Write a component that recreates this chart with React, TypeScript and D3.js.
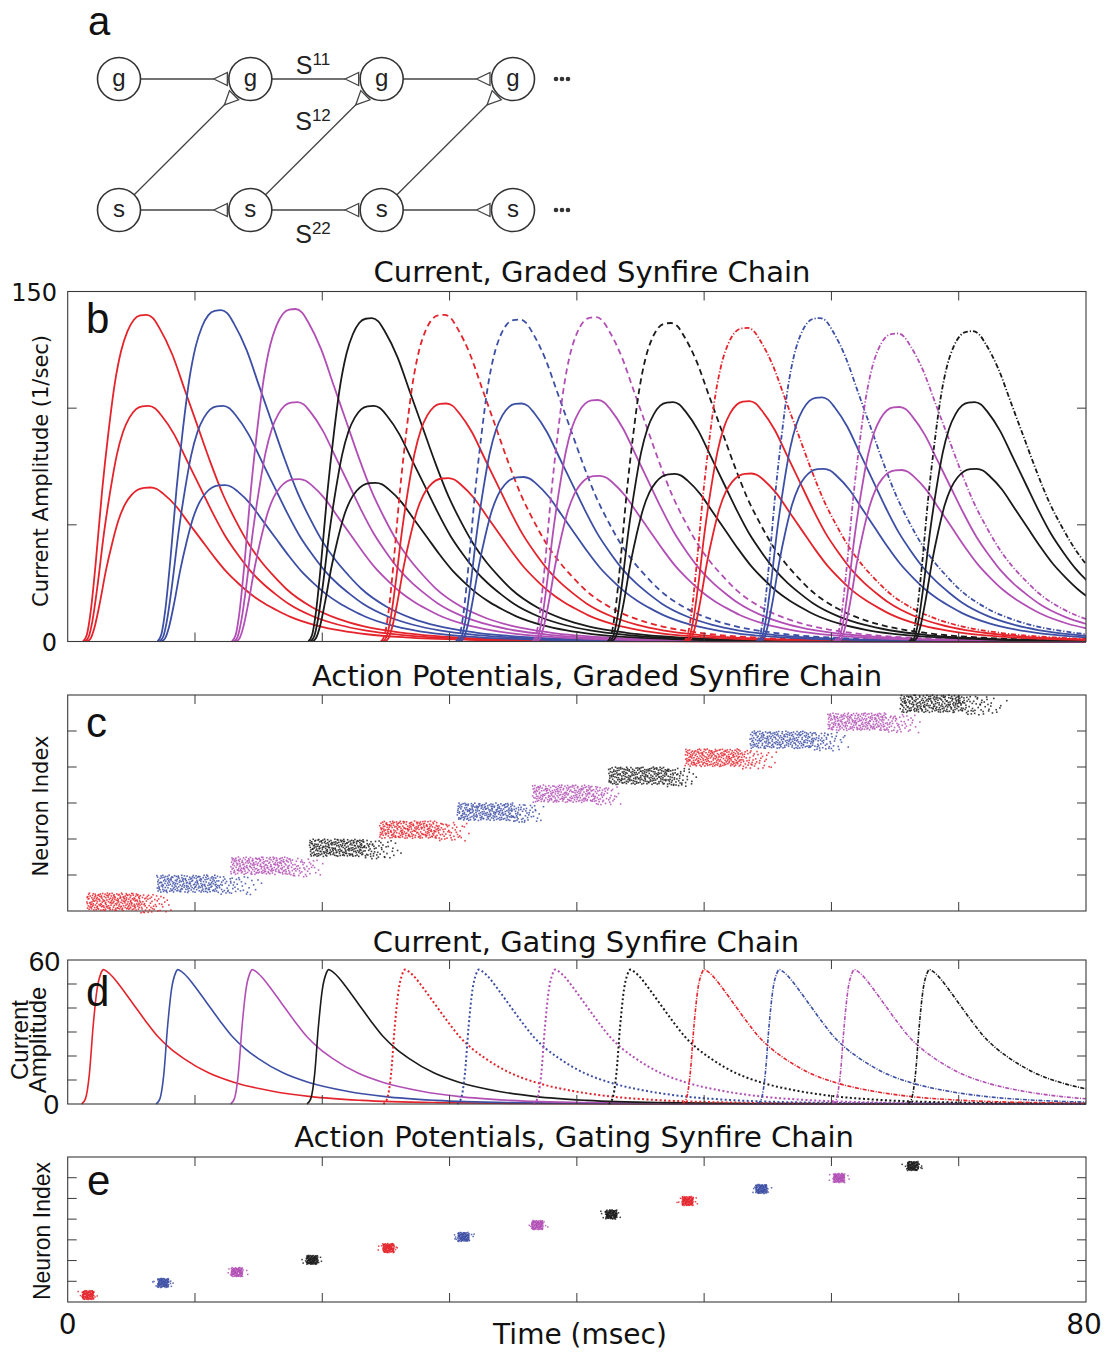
import React from "react";
import * as d3 from "d3";

const W = 1113;
const H = 1353;

// ---------- shared ----------
const GROUP_COLORS = ["red", "blue", "magenta", "black", "red", "blue", "magenta", "black", "red", "blue", "magenta", "black"];
const PALETTE: Record<string, string> = { red: "#e4232b", blue: "#3d4fa5", magenta: "#b24fb5", black: "#1a1a1a" };
const GROUP_STYLE = ["solid", "solid", "solid", "solid", "dashed", "dashed", "dashed", "dashed", "dashdot", "dashdot", "dashdot", "dashdot"];
const TIME_TICKS = [10, 20, 30, 40, 50, 60, 70];
const TIME_DOMAIN = [0, 80];

// ---------- panel a (diagram) ----------
const CHAIN_COLUMNS = [0, 1, 2, 3];
const CHAIN_LAYERS = ["g", "s"];
const SYNAPSE_LABELS = [
  { base: "S", sup: "11", row: "g" },
  { base: "S", sup: "12", row: "mid" },
  { base: "S", sup: "22", row: "s" },
];

// ---------- panel b: graded chain currents ----------
const B_ONSET = [1.2, 7.05, 12.9, 18.9, 24.6, 30.5, 36.5, 42.4, 48.4, 54.1, 60.2, 66.1];
const B_PEAK_TOP = [140, 142, 142.5, 138.6, 140, 138, 139, 136.5, 134.4, 138.6, 132, 133];
const B_PEAK_MID = [101, 101, 102.6, 101, 102, 102, 103.5, 102.6, 103, 104.6, 100.5, 102.6];
const B_PEAK_LOW = [66, 67, 69.6, 68, 70, 70.5, 71, 71.8, 72, 74, 73.5, 74];
const B_LAG = [0, 0.15, 0.3];
const B_PROFILE_T = [0, 0.3, 0.6, 1.0, 1.5, 2.0, 2.5, 3.0, 3.5, 4.0, 4.5, 5.0, 5.5, 6, 7, 8, 9, 10, 11, 12, 13, 14, 15, 16, 18, 20, 22, 25, 30, 35, 40, 50, 80];
const B_PROFILE_V = [0, 0.02, 0.09, 0.24, 0.46, 0.64, 0.79, 0.89, 0.95, 0.985, 0.998, 1, 0.99, 0.96, 0.88, 0.77, 0.66, 0.55, 0.45, 0.37, 0.3, 0.245, 0.2, 0.16, 0.105, 0.07, 0.047, 0.027, 0.011, 0.005, 0.002, 0.0005, 0];
const B_Y_TICKS = [50, 100];

// ---------- panel c: graded chain spikes ----------
const C_START = [1.5, 7.0, 12.8, 19.0, 24.5, 30.6, 36.5, 42.5, 48.5, 53.6, 59.7, 65.4];
const C_DENSE_MS = [4.2, 4.8, 4.6, 4.3, 4.5, 4.4, 4.8, 4.6, 4.4, 5.0, 4.6, 4.9];
const C_TAIL_MS = [7.0, 8.6, 7.6, 7.4, 7.4, 7.0, 7.2, 7.0, 7.6, 8.0, 7.6, 8.6];
const C_GROUP_SIZE = 100;
const C_Y_TICKS = [200, 400, 600, 800, 1000];

// ---------- panel d: gating chain currents ----------
const D_ONSET = [1.1, 6.95, 12.8, 18.8, 24.8, 30.6, 36.6, 42.5, 48.3, 54.2, 60.1, 66.0];
const D_PEAK = [56, 56, 56, 56, 56, 56, 56, 56, 56, 56, 56, 56];
const D_PROFILE_T = [0, 0.3, 0.6, 0.9, 1.2, 1.5, 1.7, 2.0, 2.5, 3, 4, 5, 6, 7, 8, 10, 12, 15, 18, 22, 28, 35, 50, 80];
const D_PROFILE_V = [0, 0.04, 0.22, 0.58, 0.85, 0.97, 1.0, 0.985, 0.94, 0.88, 0.75, 0.62, 0.5, 0.41, 0.34, 0.23, 0.16, 0.095, 0.055, 0.027, 0.01, 0.004, 0.0005, 0];
const D_Y_TICKS = [10, 20, 30, 40, 50];

// ---------- panel e: gating chain spikes ----------
const E_TIME = [1.6, 7.5, 13.3, 19.2, 25.2, 31.1, 36.9, 42.7, 48.7, 54.5, 60.6, 66.4];
const E_INDEX = [68, 183, 290, 406, 521, 628, 743, 845, 975, 1091, 1197, 1313];
const E_Y_TICKS = [200, 400, 600, 800, 1000, 1200];

// ---------- layout ----------
const X0 = 67.7;
const X1 = 1086;
const PANEL_B = { top: 291.5, bottom: 641.5 };
const PANEL_C = { top: 695, bottom: 911 };
const PANEL_D = { top: 960, bottom: 1104 };
const PANEL_E = { top: 1157, bottom: 1302 };

const x = d3.scaleLinear().domain(TIME_DOMAIN).range([X0, X1]);
const yB = d3.scaleLinear().domain([0, 150]).range([PANEL_B.bottom, PANEL_B.top]);
const yC = d3.scaleLinear().domain([0, 1200]).range([PANEL_C.bottom, PANEL_C.top]);
const yD = d3.scaleLinear().domain([0, 60]).range([PANEL_D.bottom, PANEL_D.top]);
const yE = d3.scaleLinear().domain([0, 1400]).range([PANEL_E.bottom, PANEL_E.top]);

// deterministic low-discrepancy (Halton) positions used to lay out raster dots inside each read cluster box
function halton(i: number, b: number) {
  let f = 1;
  let r = 0;
  let k = i;
  while (k > 0) {
    f /= b;
    r += f * (k % b);
    k = Math.floor(k / b);
  }
  return r;
}

type P = { t: number; v: number };

function curve(onset: number, peak: number, profT: number[], profV: number[]): P[] {
  return profT.map((s, i) => ({ t: onset + s, v: peak * profV[i] }));
}

function dashFor(style: string, panel: "b" | "d") {
  if (style === "dashed") return panel === "b" ? "6,4" : "2,2.4";
  if (style === "dashdot") return panel === "b" ? "5,2,1.2,2" : "4,1.4,1,1.4";
  return undefined;
}

const FRAME = "#3a3a3a";
const TICK = 9;

function Frame({ top, bottom, yScale, yTicks }: { top: number; bottom: number; yScale: any; yTicks: number[] }) {
  return (
    <g>
      {TIME_TICKS.map((t) => (
        <g key={"xt" + t}>
          <line x1={x(t)} x2={x(t)} y1={top} y2={top + TICK} stroke={FRAME} strokeWidth={1} />
          <line x1={x(t)} x2={x(t)} y1={bottom} y2={bottom - TICK} stroke={FRAME} strokeWidth={1} />
        </g>
      ))}
      {yTicks.map((v) => (
        <g key={"yt" + v}>
          <line x1={X0} x2={X0 + TICK} y1={yScale(v)} y2={yScale(v)} stroke={FRAME} strokeWidth={1} />
          <line x1={X1} x2={X1 - TICK} y1={yScale(v)} y2={yScale(v)} stroke={FRAME} strokeWidth={1} />
        </g>
      ))}
      <rect x={X0} y={top} width={X1 - X0} height={bottom - top} fill="none" stroke={FRAME} strokeWidth={1.1} />
    </g>
  );
}

const TITLE_FONT = "'DejaVu Sans', sans-serif";
const ARIAL = "'Liberation Sans', Arial, sans-serif";

function Diagram() {
  const colX = d3.scaleLinear().domain([0, 3]).range([119, 513]);
  const rowY: Record<string, number> = { g: 79, s: 210 };
  const r = 21.5;
  const edges: { a: [number, number]; b: [number, number] }[] = [];
  CHAIN_LAYERS.forEach((L) => {
    CHAIN_COLUMNS.slice(0, -1).forEach((c) => {
      edges.push({ a: [colX(c), rowY[L]], b: [colX(c + 1), rowY[L]] });
    });
  });
  CHAIN_COLUMNS.slice(0, -1).forEach((c) => {
    edges.push({ a: [colX(c), rowY.s], b: [colX(c + 1), rowY.g] });
  });
  const labelX = (colX(1) + colX(2)) / 2 - 3;
  const labelY: Record<string, number> = { g: 74, mid: 130, s: 243 };
  return (
    <g>
      {edges.map((e, i) => {
        const dx = e.b[0] - e.a[0];
        const dy = e.b[1] - e.a[1];
        const len = Math.hypot(dx, dy);
        const ux = dx / len;
        const uy = dy / len;
        const px = -uy;
        const py = ux;
        const sx = e.a[0] + ux * r;
        const sy = e.a[1] + uy * r;
        const bx = e.b[0] - ux * (r + 1.5);
        const by = e.b[1] - uy * (r + 1.5);
        const ax = e.b[0] - ux * (r + 15);
        const ay = e.b[1] - uy * (r + 15);
        const hw = 6.5;
        return (
          <g key={i}>
            <line x1={sx} y1={sy} x2={ax} y2={ay} stroke="#444" strokeWidth={1.3} />
            <polygon
              points={`${ax},${ay} ${bx + px * hw},${by + py * hw} ${bx - px * hw},${by - py * hw}`}
              fill="white"
              stroke="#444"
              strokeWidth={1.3}
            />
          </g>
        );
      })}
      {CHAIN_LAYERS.map((L) =>
        CHAIN_COLUMNS.map((c) => (
          <g key={L + c}>
            <circle cx={colX(c)} cy={rowY[L]} r={r} fill="white" stroke="#333" strokeWidth={1.6} />
            <text x={colX(c)} y={rowY[L] + 6.5} textAnchor="middle" fontFamily={ARIAL} fontSize={24} fill="#222">
              {L}
            </text>
          </g>
        ))
      )}
      {CHAIN_LAYERS.map((L) =>
        [0, 1, 2].map((k) => (
          <circle key={"dot" + L + k} cx={colX(3) + 43 + k * 6} cy={rowY[L]} r={2.3} fill="#333" />
        ))
      )}
      {SYNAPSE_LABELS.map((s) => (
        <text key={s.sup} x={labelX} y={labelY[s.row]} textAnchor="middle" fontFamily={ARIAL} fontSize={25} fill="#222">
          {s.base}
          <tspan fontSize={17} dy={-9}>
            {s.sup}
          </tspan>
        </text>
      ))}
      <text x={88} y={35} fontFamily={ARIAL} fontSize={40} fill="#111">
        a
      </text>
    </g>
  );
}

function PanelB() {
  const line = d3
    .line<P>()
    .x((p) => x(p.t))
    .y((p) => yB(p.v))
    .curve(d3.curveMonotoneX);
  const peaks = [B_PEAK_TOP, B_PEAK_MID, B_PEAK_LOW];
  return (
    <g>
      <defs>
        <clipPath id="clipB">
          <rect x={X0} y={PANEL_B.top - 2} width={X1 - X0} height={PANEL_B.bottom - PANEL_B.top + 3} />
        </clipPath>
      </defs>
      <g clipPath="url(#clipB)">
        {B_ONSET.map((on, g) =>
          peaks.map((arr, k) => (
            <path
              key={g + "-" + k}
              d={line(curve(on + B_LAG[k], arr[g], B_PROFILE_T, B_PROFILE_V)) || ""}
              fill="none"
              stroke={PALETTE[GROUP_COLORS[g]]}
              strokeWidth={1.8}
              strokeDasharray={k === 0 ? dashFor(GROUP_STYLE[g], "b") : undefined}
            />
          ))
        )}
      </g>
      <Frame top={PANEL_B.top} bottom={PANEL_B.bottom} yScale={yB} yTicks={B_Y_TICKS} />
      <text x={57} y={301} textAnchor="end" fontFamily={TITLE_FONT} fontSize={24} fill="#111">150</text>
      <text x={57} y={651} textAnchor="end" fontFamily={TITLE_FONT} fontSize={24} fill="#111">0</text>
      <text transform={`translate(48,471) rotate(-90)`} textAnchor="middle" fontFamily={TITLE_FONT} fontSize={21} fill="#111">
        Current Amplitude (1/sec)
      </text>
      <text x={592} y={282} textAnchor="middle" fontFamily={TITLE_FONT} fontSize={29} fill="#111">
        Current, Graded Synfire Chain
      </text>
      <text x={86} y={333} fontFamily={ARIAL} fontSize={42} fill="#111">b</text>
    </g>
  );
}

function PanelC() {
  const dots: { t: number; n: number; c: string }[] = [];
  C_START.forEach((start, g) => {
    const N = 270;
    for (let n = 0; n < N; n++) {
      const i = g * N + n + 17;
      const u = halton(i, 2);
      const w = halton(i, 3);
      const D = C_DENSE_MS[g];
      const T = C_TAIL_MS[g];
      let t: number;
      let idx: number;
      if (u < 0.8) {
        t = start + D * (u / 0.8);
        idx = g * C_GROUP_SIZE + 3 + w * (C_GROUP_SIZE - 3);
      } else {
        const q = (u - 0.8) / 0.2;
        t = start + D + (T - D) * (1 - Math.sqrt(1 - q));
        idx = g * C_GROUP_SIZE - 10 + w * (C_GROUP_SIZE + 2);
      }
      dots.push({ t, n: idx, c: PALETTE[GROUP_COLORS[g]] });
    }
  });
  return (
    <g>
      <Frame top={PANEL_C.top} bottom={PANEL_C.bottom} yScale={yC} yTicks={C_Y_TICKS} />
      {dots.map((d, i) => (
        <rect key={i} x={x(d.t) - 0.8} y={yC(d.n) - 0.8} width={1.6} height={1.6} fill={d.c} opacity={0.85} />
      ))}
      <text transform={`translate(48,806) rotate(-90)`} textAnchor="middle" fontFamily={TITLE_FONT} fontSize={21} fill="#111">
        Neuron Index
      </text>
      <text x={597} y={686} textAnchor="middle" fontFamily={TITLE_FONT} fontSize={29} fill="#111">
        Action Potentials, Graded Synfire Chain
      </text>
      <text x={86} y={737} fontFamily={ARIAL} fontSize={42} fill="#111">c</text>
    </g>
  );
}

function PanelD() {
  const line = d3
    .line<P>()
    .x((p) => x(p.t))
    .y((p) => yD(p.v))
    .curve(d3.curveMonotoneX);
  return (
    <g>
      <defs>
        <clipPath id="clipD">
          <rect x={X0} y={PANEL_D.top - 2} width={X1 - X0} height={PANEL_D.bottom - PANEL_D.top + 3} />
        </clipPath>
      </defs>
      <g clipPath="url(#clipD)">
        {D_ONSET.map((on, g) => (
          <path
            key={g}
            d={line(curve(on, D_PEAK[g], D_PROFILE_T, D_PROFILE_V)) || ""}
            fill="none"
            stroke={PALETTE[GROUP_COLORS[g]]}
            strokeWidth={GROUP_STYLE[g] === "dashed" ? 2 : 1.6}
            strokeDasharray={dashFor(GROUP_STYLE[g], "d")}
          />
        ))}
      </g>
      <Frame top={PANEL_D.top} bottom={PANEL_D.bottom} yScale={yD} yTicks={D_Y_TICKS} />
      <text x={60} y={971} textAnchor="end" fontFamily={ARIAL} fontSize={28} fill="#111">60</text>
      <text x={59} y={1114} textAnchor="end" fontFamily={ARIAL} fontSize={28} fill="#111">0</text>
      <text transform={`translate(28,1040) rotate(-90)`} textAnchor="middle" fontFamily={ARIAL} fontSize={24} fill="#111">
        Current
      </text>
      <text transform={`translate(46,1040) rotate(-90)`} textAnchor="middle" fontFamily={ARIAL} fontSize={24} fill="#111">
        Amplitude
      </text>
      <text x={586} y={952} textAnchor="middle" fontFamily={TITLE_FONT} fontSize={29} fill="#111">
        Current, Gating Synfire Chain
      </text>
      <text x={86} y={1006} fontFamily={ARIAL} fontSize={42} fill="#111">d</text>
    </g>
  );
}

function PanelE() {
  const dots: { t: number; n: number; c: string }[] = [];
  E_TIME.forEach((tc, g) => {
    const N = 110;
    for (let n = 0; n < N; n++) {
      const i = g * N + n + 23;
      const u = halton(i, 2);
      const w = halton(i, 3);
      const halo = halton(i, 5) < 0.12;
      const t = tc + (halo ? 0.85 : 0.45) * (2 * u - 1);
      const idx = E_INDEX[g] + (halo ? 34 : 44) * (2 * w - 1);
      dots.push({ t, n: idx, c: PALETTE[GROUP_COLORS[g]] });
    }
  });
  return (
    <g>
      <Frame top={PANEL_E.top} bottom={PANEL_E.bottom} yScale={yE} yTicks={E_Y_TICKS} />
      {dots.map((d, i) => (
        <rect key={i} x={x(d.t) - 0.75} y={yE(d.n) - 0.75} width={1.5} height={1.5} fill={d.c} opacity={0.85} />
      ))}
      <text transform={`translate(50,1231) rotate(-90)`} textAnchor="middle" fontFamily={ARIAL} fontSize={23} fill="#111">
        Neuron Index
      </text>
      <text x={574} y={1147} textAnchor="middle" fontFamily={TITLE_FONT} fontSize={29} fill="#111">
        Action Potentials, Gating Synfire Chain
      </text>
      <text x={87} y={1195} fontFamily={ARIAL} fontSize={42} fill="#111">e</text>
      <text x={x(TIME_DOMAIN[0])} y={1334} textAnchor="middle" fontFamily={TITLE_FONT} fontSize={28} fill="#111">
        {TIME_DOMAIN[0]}
      </text>
      <text x={x(TIME_DOMAIN[1]) - 2} y={1334} textAnchor="middle" fontFamily={TITLE_FONT} fontSize={28} fill="#111">
        {TIME_DOMAIN[1]}
      </text>
      <text x={580} y={1344} textAnchor="middle" fontFamily={TITLE_FONT} fontSize={28} fill="#111">
        Time (msec)
      </text>
    </g>
  );
}

export default function App() {
  return (
    <svg
      width={W}
      height={H}
      viewBox={`0 0 ${W} ${H}`}
      style={{ position: "absolute", left: 0, top: 0, background: "white" }}
    >
      <rect x={0} y={0} width={W} height={H} fill="white" />
      <Diagram />
      <PanelB />
      <PanelC />
      <PanelD />
      <PanelE />
    </svg>
  );
}
